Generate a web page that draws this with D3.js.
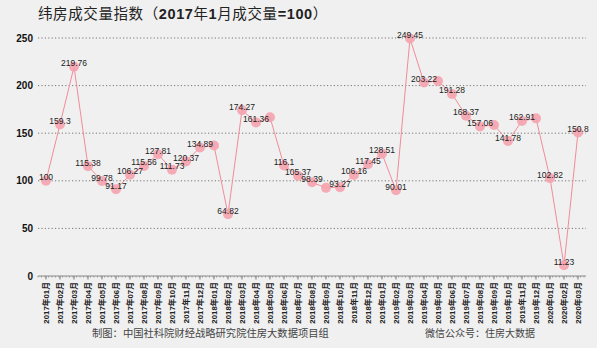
<!DOCTYPE html>
<html><head><meta charset="utf-8">
<script src="https://cdn.jsdelivr.net/npm/d3@7"></script>
<style>
html,body{margin:0;padding:0;background:#f0f0f0;}
svg{display:block;}
</style></head>
<body>
<svg id="chart" width="597" height="348"></svg>
<script>
const months = ["2017年01月","2017年02月","2017年03月","2017年04月","2017年05月","2017年06月","2017年07月","2017年08月","2017年09月","2017年10月","2017年11月","2017年12月",
"2018年01月","2018年02月","2018年03月","2018年04月","2018年05月","2018年06月","2018年07月","2018年08月","2018年09月","2018年10月","2018年11月","2018年12月",
"2019年01月","2019年02月","2019年03月","2019年04月","2019年05月","2019年06月","2019年07月","2019年08月","2019年09月","2019年10月","2019年11月","2019年12月",
"2020年01月","2020年02月","2020年03月"];
const values = [100,159.3,219.76,115.38,99.78,91.17,106.27,115.56,127.81,111.73,120.37,134.89,
137,64.82,174.27,161.36,166.7,116.1,105.37,98.39,92.6,93.27,106.16,117.45,
128.51,90.01,249.45,203.22,204.8,191.28,168.37,157.06,158.6,141.78,162.91,165.6,
102.82,11.23,150.8];
const showLabel = [1,1,1,1,1,1,1,1,1,1,1,1,
0,1,1,1,0,1,1,1,0,1,1,1,
1,1,1,1,0,1,1,1,0,1,1,0,
1,1,1];
const yTicks = [0,50,100,150,200,250];
const titleText = "纬房成交量指数";
const titleParts = ["（","2017","年","1","月成交量","=100","）"];
const footLeft = "制图：中国社科院财经战略研究院住房大数据项目组";
const footRight = "微信公众号：住房大数据";

const svg = d3.select("#chart");
const x = d3.scalePoint().domain(months).range([46, 578]);
const y = d3.scaleLinear().domain([0, 250]).range([276, 38]);
const data = months.map((m,i)=>({m, v: values[i], show: showLabel[i]}));

svg.append("rect").attr("width",597).attr("height",348).attr("fill","#f0f0f0");

// title
const t = svg.append("text").attr("x",38).attr("y",19)
  .attr("font-family","'Noto Sans CJK SC', sans-serif").attr("font-size",14.5)
  .attr("letter-spacing",0.6).attr("fill","#222");
t.append("tspan").text(titleText);
titleParts.forEach((p,i)=>{
  const num = (i===1||i===3||i===5);
  t.append("tspan").text(p).attr("font-weight", num?"bold":"normal")
   .attr("font-family", num?"Arial, 'Liberation Sans', sans-serif":"'Noto Sans CJK SC', sans-serif");
});

// grid
svg.append("g").selectAll("line").data(yTicks.filter(d=>d>0)).join("line")
  .attr("x1",38).attr("x2",586).attr("y1",d=>y(d)).attr("y2",d=>y(d))
  .attr("stroke","#777").attr("stroke-width",1).attr("stroke-dasharray","1.2,2.2");

// y labels
svg.append("g").selectAll("text").data(yTicks).join("text")
  .attr("x",33).attr("y",d=>y(d)).attr("dy","0.35em").attr("text-anchor","end")
  .attr("font-family","Arial, 'Liberation Sans', sans-serif").attr("font-weight","bold")
  .attr("font-size",10).attr("fill","#111").text(d=>d);

// x axis
const xa = svg.append("g").attr("transform",`translate(0,${y(0)})`);
xa.append("line").attr("x1",38).attr("x2",586).attr("stroke","#888").attr("stroke-width",1);
const minor = d3.range(38, 587, 3.5);
xa.selectAll("line.mn").data(minor).join("line").attr("class","mn")
  .attr("x1",d=>d).attr("x2",d=>d).attr("y1",0).attr("y2",1.5).attr("stroke","#999");
xa.selectAll("line.mj").data(months).join("line").attr("class","mj")
  .attr("x1",d=>x(d)).attr("x2",d=>x(d)).attr("y1",0).attr("y2",3.5).attr("stroke","#777");
xa.selectAll("text").data(months).join("text")
  .attr("transform",d=>`translate(${x(d)+0.5},6) rotate(-90)`)
  .attr("text-anchor","end").attr("dy","0.35em")
  .attr("font-family","Arial, 'Noto Sans CJK SC', sans-serif").attr("font-weight","bold")
  .attr("font-size",7.8).attr("fill","#222").text(d=>d);

// line
svg.append("path").datum(data)
  .attr("d", d3.line().x(d=>x(d.m)).y(d=>y(d.v)))
  .attr("fill","none").attr("stroke","#f08c98").attr("stroke-width",1);

// markers
svg.append("g").selectAll("circle").data(data).join("circle")
  .attr("cx",d=>x(d.m)).attr("cy",d=>y(d.v)).attr("r",5)
  .attr("fill","#f5a3ae").attr("fill-opacity",0.9);

// labels
svg.append("g").selectAll("text").data(data.filter(d=>d.show)).join("text")
  .attr("x",d=>x(d.m)).attr("y",d=>y(d.v)-0.5).attr("text-anchor","middle")
  .attr("font-family","Arial, 'Liberation Sans', sans-serif").attr("font-size",8.5)
  .attr("fill","#222").text(d=>String(d.v));

// footer
svg.append("text").attr("x",92).attr("y",337).attr("font-family","'Noto Sans CJK SC', serif")
  .attr("font-size",10.3).attr("fill","#444").text(footLeft);
svg.append("text").attr("x",425).attr("y",337).attr("font-family","'Noto Sans CJK SC', serif")
  .attr("font-size",10).attr("fill","#444").text(footRight);
</script>
</body></html>
